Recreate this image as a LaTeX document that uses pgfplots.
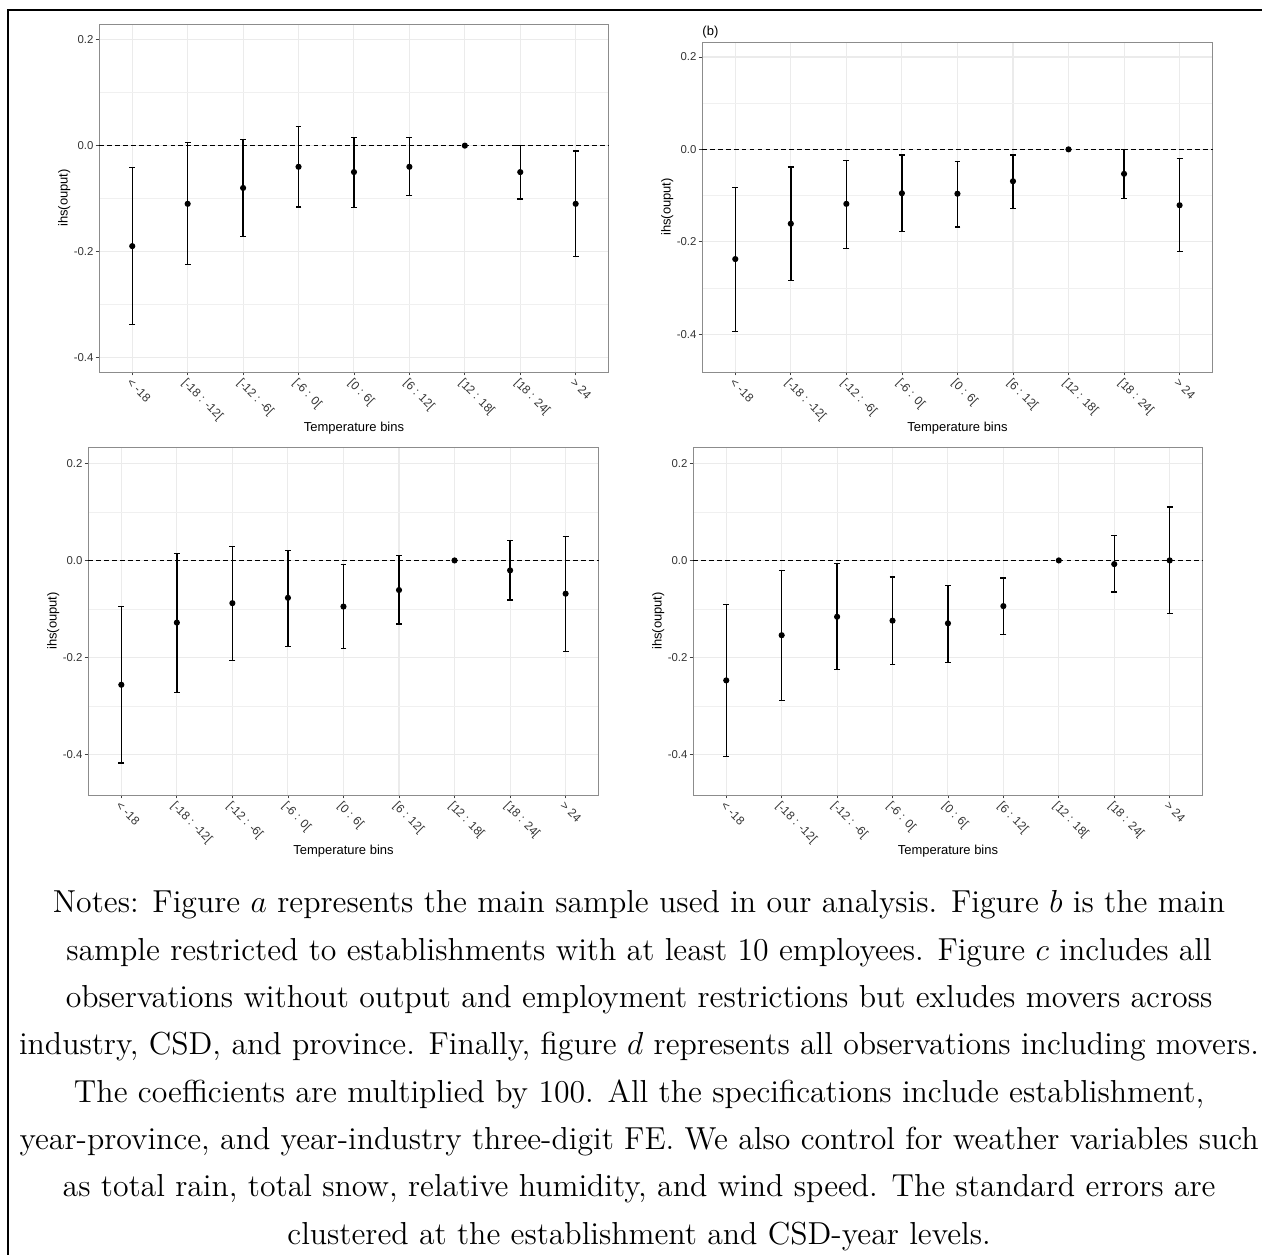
\documentclass[border=0pt]{standalone}
\usepackage{fontspec}
\newfontfamily\arial{Liberation Sans}
\usepackage{pgfplots}
\pgfplotsset{compat=1.18}
\usepackage{pgfplotstable}

% x y lo hi  (coefficient and 95% interval)
\pgfplotstableread{
x y lo hi
1 -0.190 -0.338 -0.041
2 -0.110 -0.225 0.006
3 -0.080 -0.172 0.012
4 -0.040 -0.116 0.036
5 -0.050 -0.117 0.016
6 -0.040 -0.095 0.015
7 0 0 0
8 -0.050 -0.101 0.001
9 -0.110 -0.210 -0.010
}\dataA
\pgfplotstableread{
x y lo hi
1 -0.2375 -0.3935 -0.083
2 -0.161 -0.284 -0.038
3 -0.118 -0.214 -0.024
4 -0.095 -0.178 -0.012
5 -0.096 -0.168 -0.026
6 -0.069 -0.128 -0.012
7 0 0 0
8 -0.053 -0.106 0.000
9 -0.121 -0.222 -0.019
}\dataB
\pgfplotstableread{
x y lo hi
1 -0.256 -0.417 -0.0945
2 -0.128 -0.272 0.015
3 -0.088 -0.206 0.029
4 -0.077 -0.177 0.021
5 -0.095 -0.182 -0.008
6 -0.061 -0.131 0.0096
7 0 0 0
8 -0.0205 -0.0815 0.041
9 -0.0685 -0.188 0.050
}\dataC
\pgfplotstableread{
x y lo hi
1 -0.247 -0.404 -0.091
2 -0.154 -0.288 -0.0205
3 -0.116 -0.225 -0.007
4 -0.124 -0.214 -0.034
5 -0.1295 -0.210 -0.051
6 -0.094 -0.152 -0.036
7 0 0 0
8 -0.0075 -0.065 0.051
9 0 -0.110 0.110
}\dataD

\pgfplotsset{
  tbins/.style={
    scale only axis,
    anchor=north west,
    xmin=0.4, xmax=9.6,
    xtick={1,...,9},
    xticklabels={{< -18},{[-18 : -12[},{[-12 : -6[},{[-6 : 0[},{[0 : 6[},{[6 : 12[},{[12 : 18[},{[18 : 24[},{> 24}},
    ytick={-0.4,-0.2,0,0.2},
    yticklabels={-0.4,-0.2,0.0,0.2},
    minor ytick={-0.5,-0.3,-0.1,0.1},
    grid=both,
    major grid style={draw=black!8, line width=0.4pt},
    minor grid style={draw=black!6, line width=0.25pt},
    axis line style={draw=black!45, line width=0.35pt},
    tick style={draw=black!75, line width=0.3pt},
    tick align=outside,
    major tick length=1.3pt,
    minor tick length=0pt,
    tick pos=left,
    ticklabel style={font=\arial\fontsize{4.3}{5}\selectfont, text=black!80},
    xticklabel style={rotate=-45, anchor=north west, inner sep=0.4pt, font=\arial\fontsize{4.5}{5.2}\selectfont},
    yticklabel style={inner sep=0.6pt},
    xlabel={Temperature bins},
    ylabel={ihs(ouput)},
    label style={font=\arial\fontsize{4.9}{6}\selectfont},
    xlabel style={at={(axis description cs:0.5,0)}, anchor=center, yshift=-21.1pt},
    ylabel style={at={(axis description cs:-0.068,0.5)}, anchor=center},
  },
  coef/.style={only marks, mark=*, mark size=0.95pt, black,
    error bars/.cd, y dir=both, y explicit,
    error bar style={line width=0.55pt, black},
    error mark options={rotate=90, black, line width=0.45pt, mark size=1.1pt}},
}

\newcommand\coefplot[1]{%
  \draw[black, line width=0.35pt, dash pattern=on 1.8pt off 1.2pt] (axis cs:0.4,0) -- (axis cs:9.6,0);
  \addplot[coef] table[x=x, y=y,
    y error plus expr=\thisrow{hi}-\thisrow{y},
    y error minus expr=\thisrow{y}-\thisrow{lo}] {#1};
}

\begin{document}
\begin{tikzpicture}
\path[use as bounding box] (0,0) rectangle (476.3pt,-473.6pt);
\draw[black, line width=0.4pt] (3.02pt,-473.6pt) -- (3.02pt,-3.77pt) -- (476.3pt,-3.77pt);

\begin{axis}[tbins, at={(37.36pt,-9.06pt)}, width=192.47pt, height=131.34pt,
  ymin=-0.428, ymax=0.230]
\coefplot{\dataA}
\end{axis}

\begin{axis}[tbins, at={(264.93pt,-15.85pt)}, width=192.85pt, height=124.54pt,
  ymin=-0.482, ymax=0.2325]
\coefplot{\dataB}
\end{axis}
\node[anchor=west, inner sep=0pt, font=\arial\fontsize{4.9}{6}\selectfont] at (264.93pt,-11.96pt) {(b)};

\begin{axis}[tbins, at={(33.21pt,-168.70pt)}, width=192.85pt, height=131.34pt,
  ymin=-0.483, ymax=0.2336]
\coefplot{\dataC}
\end{axis}

\begin{axis}[tbins, at={(261.54pt,-168.70pt)}, width=192.47pt, height=131.34pt,
  ymin=-0.483, ymax=0.2336]
\coefplot{\dataD}
\end{axis}

\begin{scope}[every node/.style={anchor=base, inner sep=0pt, font=\fontsize{12}{14}\selectfont}]
\node at (241.2pt,-344.56pt) {Notes: Figure $a$ represents the main sample used in our analysis. Figure $b$ is the main};
\node at (241.2pt,-362.41pt) {sample restricted to establishments with at least 10 employees. Figure $c$ includes all};
\node at (241.2pt,-380.26pt) {observations without output and employment restrictions but exludes movers across};
\node at (241.2pt,-398.11pt) {industry, CSD, and province. Finally, figure $d$ represents all observations including movers.};
\node at (241.2pt,-415.96pt) {The coefficients are multiplied by 100. All the specifications include establishment,};
\node at (241.2pt,-433.82pt) {year-province, and year-industry three-digit FE. We also control for weather variables such};
\node at (241.2pt,-451.67pt) {as total rain, total snow, relative humidity, and wind speed. The standard errors are};
\node at (241.2pt,-469.52pt) {clustered at the establishment and CSD-year levels.};
\end{scope}
\end{tikzpicture}
\end{document}
